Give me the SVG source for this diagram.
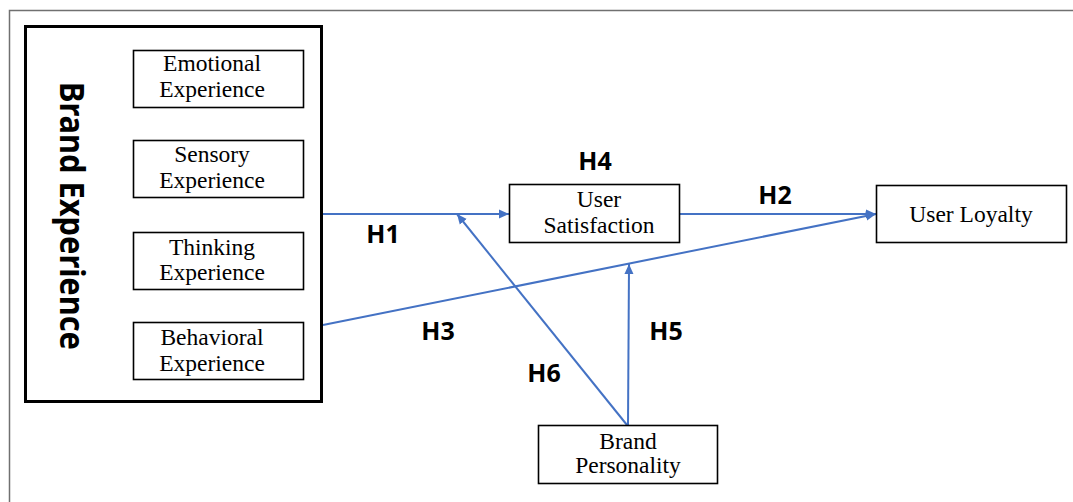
<svg xmlns="http://www.w3.org/2000/svg" width="1073" height="502" viewBox="0 0 1073 502">
  <style>
    .box { fill: #ffffff; stroke: #000000; stroke-width: 1.6; }
    .label { font-family: "Liberation Serif", "Times New Roman", serif; font-size: 23.5px; fill: #000000; text-anchor: middle; }
    .hyp { font-family: "Noto Sans", "Open Sans", sans-serif; font-weight: bold; font-size: 25px; fill: #000000; text-anchor: middle; }
    .conn { stroke: #4472C4; stroke-width: 2; fill: none; }
  </style>
  <defs>
    <marker id="arrow" viewBox="0 0 10 10" refX="10" refY="5" markerWidth="10" markerHeight="10" markerUnits="userSpaceOnUse" orient="auto">
      <path d="M0,0.5 L10,5 L0,9.5 z" fill="#4472C4"/>
    </marker>
  </defs>

  <rect width="1073" height="502" fill="#ffffff"/>
  <!-- page frame -->
  <path d="M9.5,502 L9.5,10.5 L1073,10.5" fill="none" stroke="#707070" stroke-width="1.5"/>

  <!-- connectors -->
  <g id="connectors">
    <line class="conn" x1="323" y1="214" x2="509" y2="214" marker-end="url(#arrow)"/>
    <line class="conn" x1="679" y1="214" x2="876" y2="214" marker-end="url(#arrow)"/>
    <line class="conn" x1="323" y1="325" x2="876" y2="214" marker-end="url(#arrow)"/>
    <line class="conn" x1="627" y1="425" x2="457" y2="214" marker-end="url(#arrow)"/>
    <line class="conn" x1="628" y1="425" x2="629" y2="264" marker-end="url(#arrow)"/>
    <text class="hyp" x="595" y="170">H4</text>
    <text class="hyp" x="383" y="243">H1</text>
    <text class="hyp" x="775" y="204">H2</text>
    <text class="hyp" x="438" y="340">H3</text>
    <text class="hyp" x="666" y="340">H5</text>
    <text class="hyp" x="544" y="382">H6</text>
  </g>

  <!-- Brand Experience group -->
  <g id="brand-experience">
    <rect x="25.5" y="26.5" width="296" height="375" fill="#ffffff" stroke="#000000" stroke-width="3"/>
    <text transform="translate(60,216) rotate(90)" text-anchor="middle" font-family="Noto Sans, Open Sans, sans-serif" font-weight="bold" font-size="34" textLength="268" lengthAdjust="spacingAndGlyphs">Brand Experience</text>
  </g>

  <g id="emotional-experience">
    <rect class="box" x="133.5" y="50.5" width="170" height="57"/>
    <text class="label" x="212" y="71">Emotional</text>
    <text class="label" x="212" y="97">Experience</text>
  </g>
  <g id="sensory-experience">
    <rect class="box" x="133.5" y="140.5" width="170" height="57"/>
    <text class="label" x="212" y="162">Sensory</text>
    <text class="label" x="212" y="188">Experience</text>
  </g>
  <g id="thinking-experience">
    <rect class="box" x="133.5" y="232.5" width="170" height="57"/>
    <text class="label" x="212" y="255">Thinking</text>
    <text class="label" x="212" y="280">Experience</text>
  </g>
  <g id="behavioral-experience">
    <rect class="box" x="133.5" y="322.5" width="170" height="57"/>
    <text class="label" x="212" y="345">Behavioral</text>
    <text class="label" x="212" y="371">Experience</text>
  </g>

  <g id="user-satisfaction">
    <rect class="box" x="509.5" y="184.5" width="170" height="58"/>
    <text class="label" x="599" y="207">User</text>
    <text class="label" x="599" y="233">Satisfaction</text>
  </g>
  <g id="user-loyalty">
    <rect class="box" x="876.5" y="185.5" width="190" height="57"/>
    <text class="label" x="971" y="222">User Loyalty</text>
  </g>
  <g id="brand-personality">
    <rect class="box" x="538.5" y="425.5" width="179" height="58"/>
    <text class="label" x="628" y="449">Brand</text>
    <text class="label" x="628" y="473">Personality</text>
  </g>
</svg>
